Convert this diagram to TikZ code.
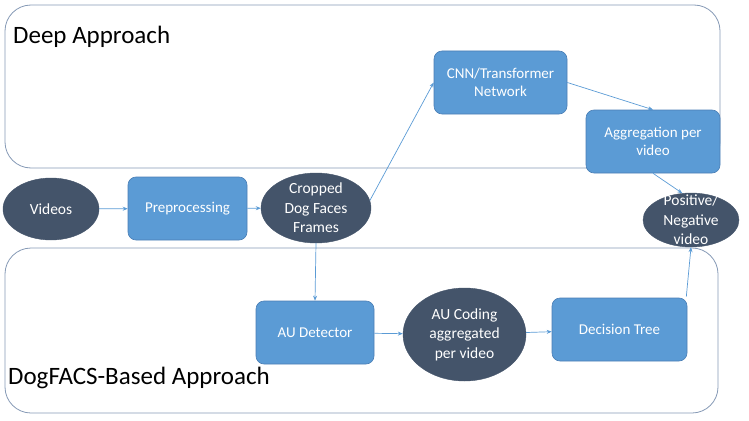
\documentclass[tikz,border=0pt]{standalone}
\usepackage{fontspec}
\setmainfont{Carlito}
\usetikzlibrary{shapes.geometric,arrows.meta}
\definecolor{boxblue}{HTML}{5B9BD5}
\definecolor{boxedge}{HTML}{4A7EB5}
\definecolor{darknode}{HTML}{44546A}
\definecolor{frame}{HTML}{8599B5}
\definecolor{arrowc}{HTML}{5B9BD5}
\tikzset{
  procbox/.style={rectangle, rounded corners=8pt, fill=boxblue, draw=boxedge, line width=0.6pt,
    text=white, align=center, font=\fontsize{15}{18.5}\selectfont, inner sep=0pt},
  darkell/.style={ellipse, fill=darknode, draw=darknode, text=white, align=center,
    font=\fontsize{15.5}{19.5}\selectfont, inner sep=0pt},
  region/.style={draw=frame, line width=0.8pt, rounded corners=26pt},
  arr/.style={draw=arrowc, line width=0.7pt, -{Stealth[length=5pt,width=4pt]}},
  title/.style={anchor=west, inner sep=0pt, font=\fontsize{25}{28}\selectfont, text=black}
}
\begin{document}
\begin{tikzpicture}[x=1pt,y=-1pt]
\useasboundingbox (0,0) rectangle (749,420);
% regions
\draw[region] (5,5) rectangle (720,168);
\draw[region] (5,248) rectangle (718,413);
\node[title] (deep) at (13,37) {Deep Approach};
\node[title] (dog) at (8,378) {DogFACS-Based Approach};
% nodes
\node[darkell, minimum width=96pt, minimum height=62pt] (vid) at (51,209) {Videos};
\node[procbox, minimum width=119pt, minimum height=63pt] (pre) at (187.5,208.5) {Preprocessing};
\node[darkell, minimum width=110pt, minimum height=70pt, inner sep=-4pt] (crop) at (316,208) {Cropped\\Dog Faces\\Frames};
\node[procbox, minimum width=133pt, minimum height=63pt] (cnn) at (500.5,82.5) {CNN/Transformer\\Network};
\node[procbox, minimum width=134pt, minimum height=63pt] (agg) at (653,141.5) {Aggregation per\\video};
\node[darkell, minimum width=96pt, minimum height=54pt, inner sep=-12pt] (pos) at (691,220) {Positive/\\Negative\\video};
\node[procbox, minimum width=118pt, minimum height=63pt] (det) at (315,332.5) {AU Detector};
\node[darkell, minimum width=123pt, minimum height=93pt, inner sep=-4pt] (cod) at (464.5,334.5) {AU Coding\\aggregated\\per video};
\node[procbox, minimum width=135pt, minimum height=63pt] (dt) at (619.5,329.5) {Decision Tree};
% connectors
\draw[arr] (vid) -- (pre);
\draw[arr] (pre) -- (crop);
\draw[arr] (crop.8) -- (cnn.west);
\draw[arr] (cnn.east) -- (agg.north);
\draw[arr] (agg.south) -- (pos.108);
\draw[arr] (crop.south) -- (det.north);
\draw[arr] (det) -- (cod);
\draw[arr] (cod) -- (dt);
\draw[arr] ([xshift=-1pt,yshift=1pt]dt.north east) -- (pos.south);
\end{tikzpicture}
\end{document}
